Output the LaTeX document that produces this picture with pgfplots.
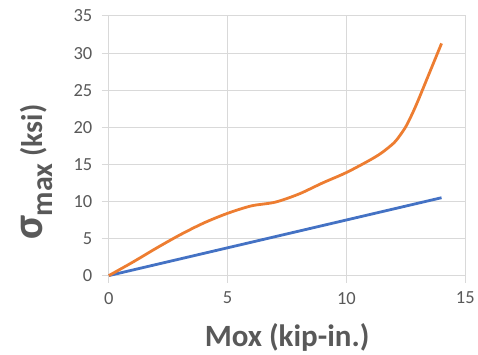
\documentclass[border=0pt]{standalone}
\usepackage{fontspec}
\setmainfont{Carlito}
\usepackage{pgfplots}
\pgfplotsset{compat=1.18}
\definecolor{xlorange}{HTML}{ED7D31}
\definecolor{xlblue}{HTML}{4472C4}
\definecolor{gridgray}{HTML}{D9D9D9}
\definecolor{txtgray}{HTML}{595959}
\begin{document}
\begin{tikzpicture}
\begin{axis}[
  at={(0,0)}, anchor=south west,
  scale only axis,
  width=357pt, height=260pt,
  xmin=0, xmax=15, ymin=0, ymax=35,
  xtick={0,5,10,15}, ytick={0,5,10,15,20,25,30,35},
  grid=major,
  major grid style={draw=gridgray, line width=1pt},
  axis line style={draw=gridgray, line width=1pt},
  tick style={draw=gridgray, line width=1pt},
  tick align=outside,
  major tick length=7pt,
  xtick pos=bottom, ytick pos=left,
  ticklabel style={font=\fontsize{18.5}{20}\selectfont, text=txtgray},
  /pgf/number format/assume math mode=true,
  xticklabel style={yshift=-6pt},
  yticklabel style={xshift=-6pt},
  xlabel={Mox (kip-in.)},
  xlabel style={at={(axis description cs:0.5,-0.273)}, anchor=base,
    font=\fontsize{31}{33}\selectfont\bfseries, text=txtgray},
  ylabel={{\fontsize{44}{46}\selectfont σ}\raisebox{-10pt}{max} (ksi)},
  ylabel style={at={(axis description cs:-0.185,0.398)}, anchor=base, rotate=0,
    font=\fontsize{30}{32}\selectfont\bfseries, text=txtgray},
  clip=false,
]
\addplot[xlblue, line width=2.8pt] coordinates {(0,0) (14,10.5)};
\addplot[xlorange, line width=2.8pt, smooth, tension=0.5] coordinates {
(0,0) (1,1.8) (2,3.7) (3,5.5) (4,7.1) (5,8.4) (6,9.4) (7,9.9) (8,11.0) (9,12.5)
(10,13.9) (11,15.6) (11.5,16.6) (12,17.9) (12.25,18.9) (12.5,20.1) (12.75,21.7) (13,23.5) (13.5,27.4) (14,31.3)};
\end{axis}
\path[use as bounding box] (-109pt,-75pt) rectangle (369pt,276pt);
\end{tikzpicture}
\end{document}
